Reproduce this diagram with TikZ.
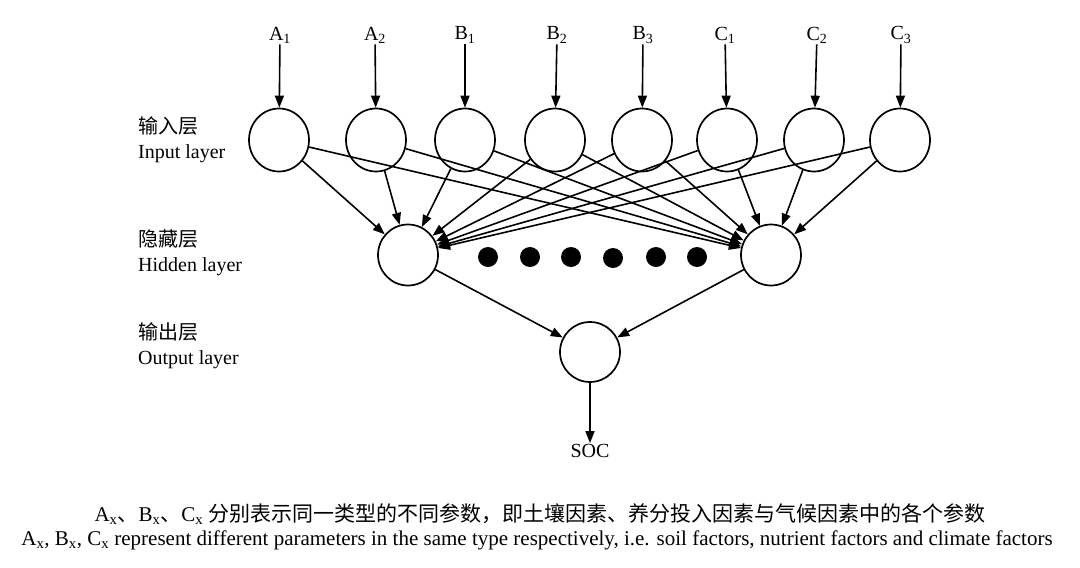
\documentclass[tikz,border=0pt]{standalone}
\usepackage{fontspec}
\setmainfont{Liberation Serif}
\newfontfamily\cjk{Noto Sans CJK SC}
\usetikzlibrary{arrows.meta,shapes.geometric}
\begin{document}
\begin{tikzpicture}[x=1pt,y=-1pt,
  unit/.style={draw,ellipse,line width=1.7pt,minimum width=60pt,minimum height=63pt,inner sep=0pt},
  dotnode/.style={circle,fill=black,minimum size=20pt,inner sep=0pt},
  arr/.style={line width=1.6pt,-{Triangle[length=12pt,width=9pt]}},
  lab/.style={font=\fontsize{20}{22}\selectfont,inner sep=1pt},
  layer/.style={font=\fontsize{20}{25}\selectfont,align=left,anchor=west,inner sep=0pt},
  capt/.style={font=\fontsize{21}{24}\selectfont,inner sep=0pt}]
\useasboundingbox (0,0) rectangle (1080,568);
% input labels
\node[lab] (l1) at (280,35) {A\textsubscript{1}};
\node[lab] (l2) at (375,35) {A\textsubscript{2}};
\node[lab] (l3) at (465,35) {B\textsubscript{1}};
\node[lab] (l4) at (557,35) {B\textsubscript{2}};
\node[lab] (l5) at (643,35) {B\textsubscript{3}};
\node[lab] (l6) at (725,35) {C\textsubscript{1}};
\node[lab] (l7) at (817,35) {C\textsubscript{2}};
\node[lab] (l8) at (901,35) {C\textsubscript{3}};
% input nodes
\node[unit] (i1) at (279,140) {};
\node[unit] (i2) at (376,140) {};
\node[unit] (i3) at (465,140) {};
\node[unit] (i4) at (555,140) {};
\node[unit] (i5) at (642,140) {};
\node[unit] (i6) at (727,140) {};
\node[unit] (i7) at (814,140) {};
\node[unit] (i8) at (900,140) {};
% hidden
\node[unit,minimum height=61pt] (h1) at (408,255) {};
\node[unit,minimum height=61pt] (h2) at (771,255) {};
\node[dotnode] (d1) at (488,257) {};
\node[dotnode] (d2) at (530,257) {};
\node[dotnode] (d3) at (571,257) {};
\node[dotnode] (d4) at (613,258) {};
\node[dotnode] (d5) at (656,257) {};
\node[dotnode] (d6) at (697,257) {};
% output
\node[unit,minimum height=60pt] (o) at (590,352) {};
\node[lab] (soc) at (590,451) {SOC};
% arrows
\foreach \k in {1,...,8}{
  \draw[arr] (l\k) -- (i\k);
  \draw[arr] (i\k) -- (h1);
  \draw[arr] (i\k) -- (h2);
}
\draw[arr] (h1) -- (o);
\draw[arr] (h2) -- (o);
\draw[arr] (o) -- (soc);
% layer labels
\node[layer] (t1) at (138,140) {{\cjk 输入层}\\Input layer};
\node[layer] (t2) at (138,253) {{\cjk 隐藏层}\\Hidden layer};
\node[layer] (t3) at (138,346) {{\cjk 输出层}\\Output layer};
% caption
\node[capt] (c1) at (540,514) {A\textsubscript{x}{\cjk 、}B\textsubscript{x}{\cjk 、}C\textsubscript{x} {\cjk 分别表示同一类型的不同参数，即土壤因素、养分投入因素与气候因素中的各个参数}};
\node[capt] (c2) at (537,540) {A\textsubscript{x}, B\textsubscript{x}, C\textsubscript{x} represent different parameters in the same type respectively, i.e. soil factors, nutrient factors and climate factors};
\end{tikzpicture}
\end{document}
